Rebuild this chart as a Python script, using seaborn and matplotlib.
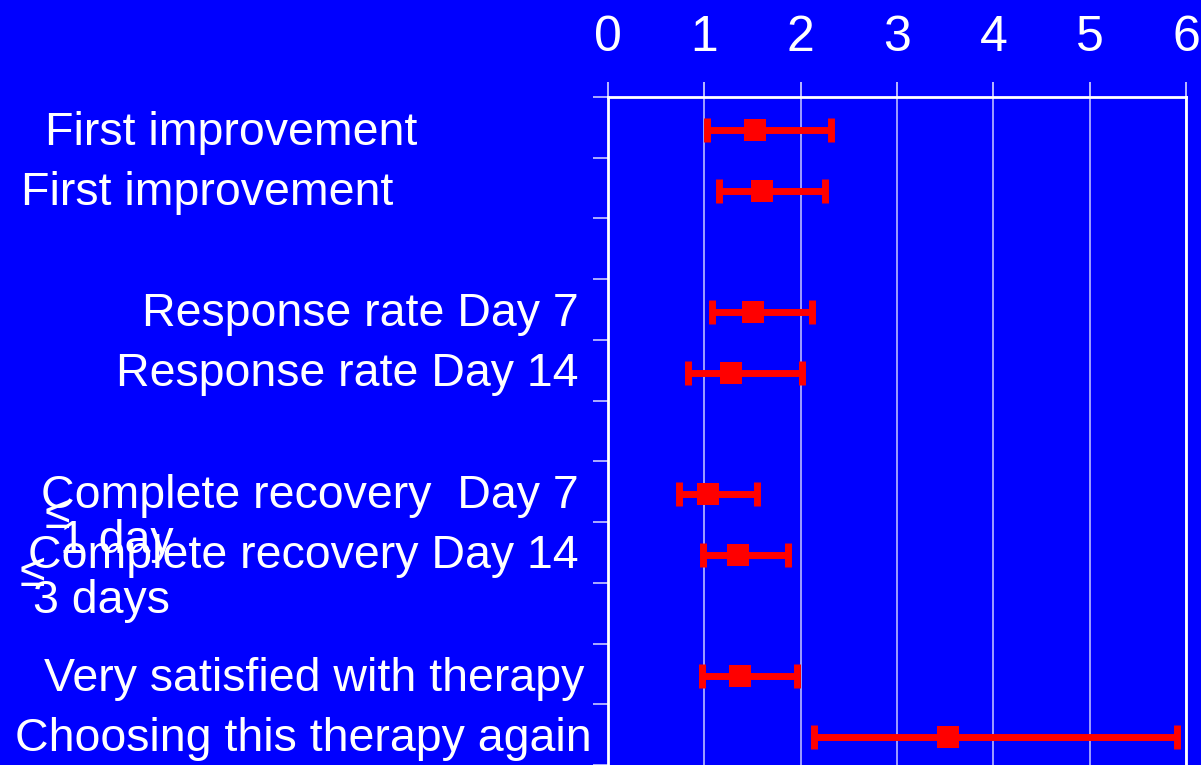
import matplotlib
matplotlib.use("Agg")
import matplotlib.pyplot as plt
import seaborn as sns
import pandas as pd

# ======================= Data =======================
labels = ["First improvement", "First improvement",
          "Response rate Day 7", "Response rate Day 14",
          "Complete recovery  Day 7", "Complete recovery Day 14",
          "Very satisfied with therapy", "Choosing this therapy again"]
row_pos = [0, 1, 3, 4, 6, 7, 9, 10]
estimate = [1.53, 1.60, 1.50, 1.28, 1.04, 1.35, 1.37, 3.53]
ci_low = [1.03, 1.15, 1.08, 0.83, 0.74, 0.99, 0.98, 2.14]
ci_high = [2.32, 2.25, 2.12, 2.01, 1.55, 1.87, 1.96, 5.91]
x_ticks = [0, 1, 2, 3, 4, 5, 6]

df = pd.DataFrame({"label": labels, "row": row_pos, "est": estimate,
                   "lo": ci_low, "hi": ci_high})

BLUE = "#0000FF"
RED = "#FF0000"
W, H = 1201, 765

# ======================= Figure =======================
sns.set_style("white")
plt.rcParams["font.family"] = ["Liberation Sans", "DejaVu Sans"]

fig = plt.figure(figsize=(W / 100, H / 100), dpi=100, facecolor=BLUE)
ax = fig.add_axes([608 / W, 0, 578 / W, 1 - 97 / H])
ax.set_facecolor(BLUE)

ax.errorbar(df["est"], df["row"] + 0.04,
            xerr=[df["est"] - df["lo"], df["hi"] - df["est"]],
            fmt="none", ecolor=RED, elinewidth=5, capsize=8.5, capthick=5, zorder=3)
sns.scatterplot(x=df["est"], y=df["row"] + 0.04, marker="s", s=240, color=RED,
                edgecolor=RED, linewidth=0, ax=ax, zorder=4, legend=False)

ax.set_xlim(0, 6)
ax.set_ylim(10.5, -0.5)
ax.set_xticks(x_ticks)
ax.set_yticks([k - 0.5 for k in range(12)])
ax.set_yticklabels([])
ax.xaxis.tick_top()
ax.tick_params(axis="x", direction="out", length=11, width=1.2, color="#D8D8FF",
               labelcolor="white", labelsize=36, pad=15)
ax.tick_params(axis="y", direction="out", length=11, width=1.2, color="#C8C8FF", left=True)
ax.set_xlabel("")
ax.set_ylabel("")

ax.grid(axis="x", color="#B8B8FF", linewidth=1.2)
ax.grid(axis="y", visible=False)
for side in ["top", "left", "right"]:
    ax.spines[side].set_color("white")
    ax.spines[side].set_linewidth(2)
ax.spines["bottom"].set_visible(False)

# ======================= Row labels =======================
lab_fs = 33.5
def px(x, y):
    return x / W, 1 - y / H

fig.text(*px(231, 133), labels[0], color="white", fontsize=lab_fs, ha="center", va="center")
fig.text(*px(207, 193), labels[1], color="white", fontsize=lab_fs, ha="center", va="center")
fig.text(*px(579, 314), labels[2], color="white", fontsize=lab_fs, ha="right", va="center")
fig.text(*px(579, 374), labels[3], color="white", fontsize=lab_fs, ha="right", va="center")
fig.text(*px(579, 496), labels[4], color="white", fontsize=lab_fs, ha="right", va="center")
fig.text(*px(579, 556), labels[5], color="white", fontsize=lab_fs, ha="right", va="center")
fig.text(*px(584, 679), labels[6], color="white", fontsize=lab_fs, ha="right", va="center")
fig.text(*px(592, 739), labels[7], color="white", fontsize=lab_fs, ha="right", va="center")

# overlapping footnote-style text
fig.text(*px(45, 516), "≤", color="white", fontsize=lab_fs, ha="left", va="center")
fig.text(*px(60, 541), "1 day", color="white", fontsize=lab_fs, ha="left", va="center")
fig.text(*px(20, 574), "≤", color="white", fontsize=lab_fs, ha="left", va="center")
fig.text(*px(33, 601), "3 days", color="white", fontsize=lab_fs, ha="left", va="center")

fig.savefig("out.png", dpi=100, facecolor=BLUE)
